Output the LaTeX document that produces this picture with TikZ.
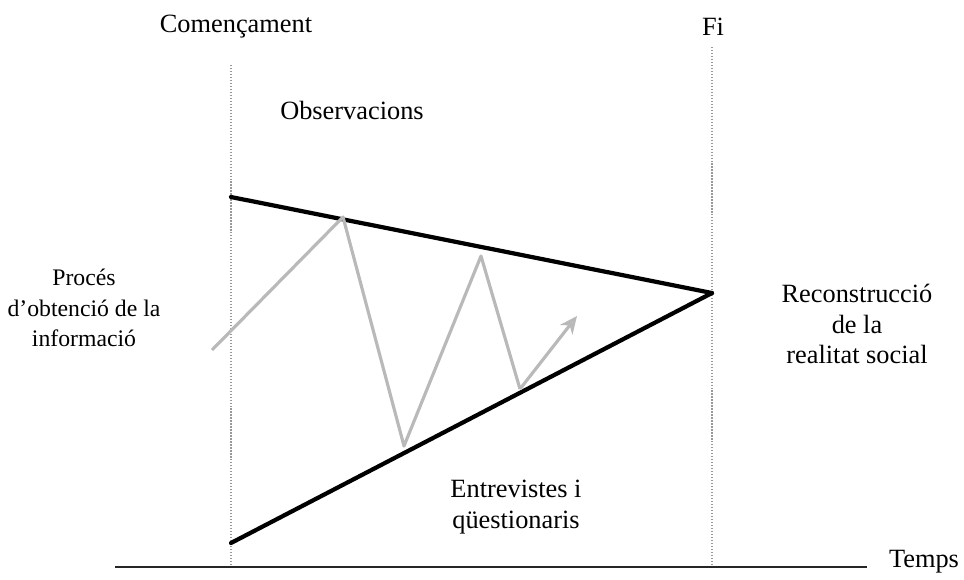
\documentclass[tikz,border=0pt]{standalone}
\usepackage{fontspec}
\setmainfont{Liberation Serif}
\usetikzlibrary{arrows.meta,positioning}

\begin{document}
\begin{tikzpicture}[
    x=0.02cm, y=-0.02cm,
    font=\fontsize{15}{17.5}\selectfont,
    lbl/.style={align=center, inner sep=2pt},
    timeline/.style={draw=gray!80, densely dotted, line width=0.7pt},
    edge/.style={line width=2.4pt, line cap=round},
    axisline/.style={line width=1.4pt, draw=black!85},
    path/.style={draw=gray!55, line width=1.8pt, line join=round},
    pathend/.style={-{Stealth[open, length=10pt, width=9pt]}}
  ]
    % Page frame
    \useasboundingbox (0,0) rectangle (964,579);

    % Labels
    \node[lbl] (lblstart) at (236,27) {Començament};
    \node[lbl] (lblend) at (713,27) {Fi};
    \node[lbl] (obs) at (352,110) {Observacions};
    \node[lbl, font=\fontsize{13.5}{17.5}\selectfont] (proc) at (84,308)
      {Procés\\d’obtenció de la\\informació};
    \node[lbl] (recon) at (857,324) {Reconstrucció\\de la\\realitat social};
    \node[lbl] (entr) at (516,507) {Entrevistes i\\qüestionaris};
    \node[lbl] (temps) at (924,562) {Temps};

    % Time marks
    \coordinate (starttop) at (231,65);
    \coordinate (startbot) at (231,567);
    \coordinate (endtop) at (712,47);
    \coordinate (endbot) at (712,567);
    \draw[timeline] (starttop) -- (startbot);
    \draw[timeline] (endtop) -- (endbot);

    % Time axis
    \coordinate (axisL) at (115,567);
    \coordinate (axisR) at (867,567);
    \draw[axisline] (axisL) -- (axisR);

    % Triangle
    \coordinate (topleft) at (231,197);
    \coordinate (botleft) at (231,543);
    \coordinate (apex) at (712,293);
    \draw[edge] (topleft) -- (apex);
    \draw[edge] (botleft) -- (apex);

    % Zig-zag of information gathering
    \coordinate (z0) at (212,350);
    \coordinate (z1) at (343,217);
    \coordinate (z2) at (404,446);
    \coordinate (z3) at (481,256);
    \coordinate (z4) at (520,389);
    \coordinate (z5) at (577,316);
    \draw[path] (z0) -- (z1) -- (z2) -- (z3) -- (z4);
    \draw[path, pathend] (z4) -- (z5);
  \end{tikzpicture}
\end{document}
